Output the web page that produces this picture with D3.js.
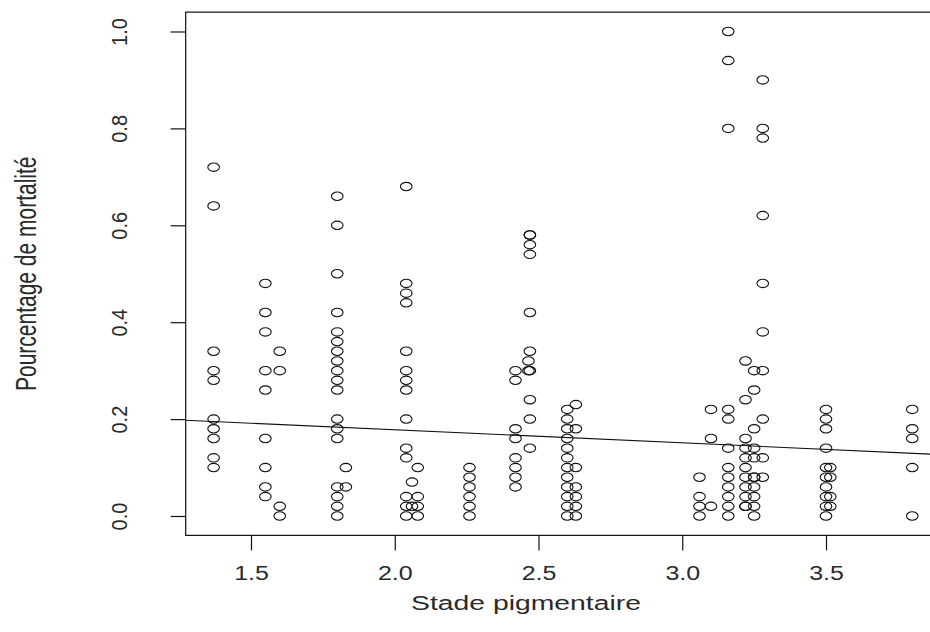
<!DOCTYPE html>
<html>
<head>
<meta charset="utf-8">
<script src="https://cdn.jsdelivr.net/npm/d3@7"></script>
<style>
  html, body { margin: 0; padding: 0; background: #fff; }
  svg { display: block; }
  text { font-family: "Liberation Sans", Arial, sans-serif; fill: #2a2a2a; }
</style>
</head>
<body>
<svg id="chart" width="930" height="632"></svg>
<script>
// ---- Data ----
const stades = [1.37, 1.55, 1.60, 1.80, 1.83, 2.04, 2.06, 2.08, 2.26, 2.42, 2.465, 2.47,
                2.60, 2.63, 3.06, 3.10, 3.16, 3.22, 3.25, 3.28, 3.50, 3.515, 3.80];
const mortalites = [
  [0.72, 0.64, 0.34, 0.30, 0.28, 0.20, 0.18, 0.16, 0.12, 0.10],
  [0.48, 0.42, 0.38, 0.30, 0.26, 0.16, 0.10, 0.06, 0.04],
  [0.34, 0.30, 0.02, 0.00],
  [0.66, 0.60, 0.50, 0.42, 0.38, 0.36, 0.34, 0.32, 0.30, 0.28, 0.26, 0.20, 0.18, 0.16, 0.06, 0.04, 0.02, 0.00],
  [0.10, 0.06],
  [0.68, 0.48, 0.46, 0.44, 0.34, 0.30, 0.28, 0.26, 0.20, 0.14, 0.12, 0.04, 0.02, 0.00],
  [0.07, 0.02],
  [0.10, 0.04, 0.02, 0.00],
  [0.10, 0.08, 0.06, 0.04, 0.02, 0.00],
  [0.30, 0.28, 0.18, 0.16, 0.12, 0.10, 0.08, 0.06],
  [0.32, 0.30],
  [0.58, 0.58, 0.56, 0.54, 0.42, 0.34, 0.30, 0.24, 0.20, 0.14],
  [0.22, 0.20, 0.18, 0.16, 0.14, 0.12, 0.10, 0.08, 0.06, 0.04, 0.02, 0.00],
  [0.23, 0.18, 0.10, 0.06, 0.04, 0.02, 0.00],
  [0.08, 0.04, 0.02, 0.00],
  [0.22, 0.16, 0.02],
  [1.00, 0.94, 0.80, 0.22, 0.20, 0.14, 0.10, 0.08, 0.06, 0.04, 0.02, 0.00],
  [0.32, 0.24, 0.16, 0.14, 0.12, 0.10, 0.08, 0.06, 0.04, 0.02, 0.02],
  [0.30, 0.26, 0.18, 0.14, 0.12, 0.08, 0.08, 0.06, 0.04, 0.02, 0.00],
  [0.90, 0.80, 0.78, 0.62, 0.48, 0.38, 0.30, 0.20, 0.12, 0.08],
  [0.22, 0.20, 0.18, 0.14, 0.10, 0.08, 0.06, 0.04, 0.02, 0.00],
  [0.10, 0.08, 0.04, 0.02],
  [0.22, 0.18, 0.16, 0.10, 0.00]
];
const xTicks = [1.5, 2.0, 2.5, 3.0, 3.5];
const yTicks = [0.0, 0.2, 0.4, 0.6, 0.8, 1.0];
const regIntercept = 0.232;
const regSlope = -0.027;
const xLabel = "Stade pigmentaire";
const yLabel = "Pourcentage de mortalité";

// ---- Build points ----
const points = [];
stades.forEach((s, i) => mortalites[i].forEach(m => points.push({x: s, y: m})));

// ---- Scales (R style 4% padding) ----
const svg = d3.select("#chart");
const xExt = d3.extent(stades), yExt = [0, 1];
const xPad = (xExt[1] - xExt[0]) * 0.04, yPad = (yExt[1] - yExt[0]) * 0.04;
const x = d3.scaleLinear().domain([1.5, 3.5]).range([251, 826]);
const y = d3.scaleLinear().domain([0, 1]).range([516, 31.5]);
const x0 = x(xExt[0] - xPad), x1 = x(xExt[1] + xPad);
const y0 = y(yExt[0] - yPad), y1 = y(yExt[1] + yPad);

const g = svg.append("g");

// Plot box
g.append("rect")
  .attr("x", x0).attr("y", y1)
  .attr("width", x1 - x0).attr("height", y0 - y1)
  .attr("fill", "none").attr("stroke", "#111").attr("stroke-width", 1.2);

// Axes
const xAxis = d3.axisBottom(x).tickValues(xTicks).tickFormat(d3.format(".1f"))
  .tickSizeInner(15).tickSizeOuter(0).tickPadding(5);
const yAxis = d3.axisLeft(y).tickValues(yTicks).tickFormat(d3.format(".1f"))
  .tickSizeInner(15).tickSizeOuter(0).tickPadding(5);

const gx = g.append("g").attr("transform", `translate(0,${y0})`).call(xAxis);
gx.select(".domain").remove();
gx.selectAll(".tick line").attr("stroke", "#111").attr("stroke-width", 1.2);
gx.selectAll(".tick text")
  .attr("font-size", 20).attr("fill", "#2a2a2a")
  .attr("y", null).attr("dy", null)
  .attr("transform", "translate(0,45) scale(1.25,1)");

const gy = g.append("g").attr("transform", `translate(${x0},0)`).call(yAxis);
gy.select(".domain").remove();
gy.selectAll(".tick line").attr("stroke", "#111").attr("stroke-width", 1.2);
gy.selectAll(".tick text")
  .attr("font-size", 20).attr("fill", "#2a2a2a")
  .attr("text-anchor", "middle")
  .attr("x", null).attr("dy", null)
  .attr("transform", "translate(-67,0) scale(1.1,1) rotate(-90)")
  .attr("dominant-baseline", "central");

// Regression line, clipped to box
svg.append("clipPath").attr("id", "clip").append("rect")
  .attr("x", x0).attr("y", y1).attr("width", x1 - x0).attr("height", y0 - y1);
const xa = x.invert(x0), xb = x.invert(x1);
g.append("line")
  .attr("clip-path", "url(#clip)")
  .attr("x1", x(xa)).attr("y1", y(regIntercept + regSlope * xa))
  .attr("x2", x(xb)).attr("y2", y(regIntercept + regSlope * xb))
  .attr("stroke", "#111").attr("stroke-width", 1.1);

// Points (open circles)
g.selectAll("ellipse.pt").data(points).join("ellipse")
  .attr("class", "pt")
  .attr("cx", d => x(d.x)).attr("cy", d => y(d.y))
  .attr("rx", 5.8).attr("ry", 4.2)
  .attr("fill", "none").attr("stroke", "#111").attr("stroke-width", 1.1);

// Axis titles
g.append("text")
  .attr("transform", `translate(526,610) scale(1.35,1)`)
  .attr("text-anchor", "middle").attr("font-size", 21)
  .text(xLabel);
g.append("text")
  .attr("transform", `translate(26,${(y0 + y1) / 2}) scale(1.4,1) rotate(-90)`)
  .attr("text-anchor", "middle").attr("dominant-baseline", "central")
  .attr("font-size", 21)
  .text(yLabel);
</script>
</body>
</html>
